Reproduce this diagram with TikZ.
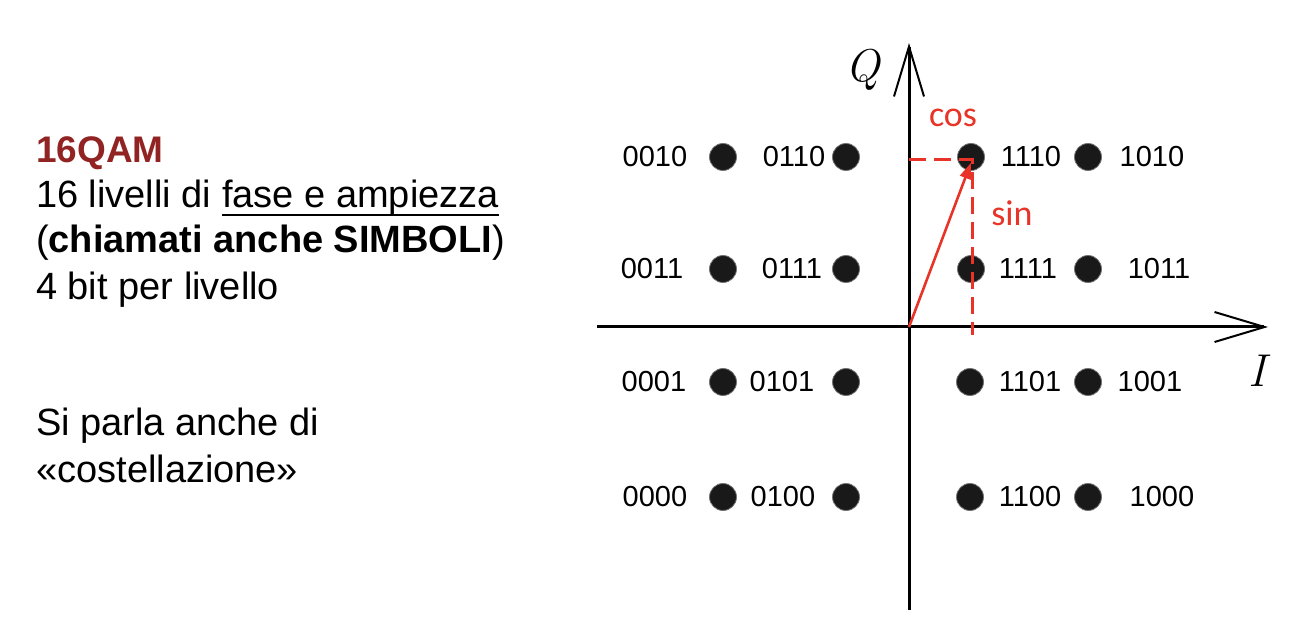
\documentclass[tikz,border=0pt]{standalone}
\usepackage{fontspec}
\setmainfont{Liberation Sans}
\newfontfamily\calibrifont{Carlito}
\newfontfamily\lmfont{Latin Modern Roman}
\usepackage{tikz}
\usetikzlibrary{arrows.meta,positioning}
\usepackage{xcolor}
\definecolor{qamred}{RGB}{145,35,35}
\definecolor{vecred}{RGB}{232,52,40}
\newcommand{\sottolinea}[1]{\setbox0\hbox{#1}\rlap{\rule[-8pt]{\wd0}{1.8pt}}\box0}

\begin{document}
\begin{tikzpicture}[x=1pt, y=1pt,
    txt/.style={anchor=base west, inner sep=0pt, font=\fontsize{38}{45}\selectfont},
    dot/.style={circle, fill=black!90, draw=black!55, line width=0.8pt,
                minimum size=27pt, inner sep=0pt},
    bits/.style={inner sep=0pt, font=\fontsize{29}{32}\selectfont},
    axis/.style={line width=3pt, -{Straight Barb[length=50pt,width=30pt,line width=2pt]}},
    asse/.style={inner sep=0pt, font=\lmfont\itshape\fontsize{46}{50}\selectfont},
    trig/.style={text=vecred, inner sep=0pt, font=\calibrifont\fontsize{36}{40}\selectfont}
]
    \useasboundingbox (-909,-315) rectangle (407,327);
    % left text
    \node[txt, text=qamred, font=\fontsize{37}{45}\selectfont\bfseries] (title) at (-873,164) {16QAM};
    \node[txt] (riga1) at (-873,119) {16 livelli di \sottolinea{fase e ampiezza}};
    \node[txt] (riga2) at (-873,74) {(\textbf{chiamati anche SIMBOLI})};
    \node[txt] (riga3) at (-873,27) {4 bit per livello};
    \node[txt] (riga4) at (-873,-108) {Si parla anche di};
    \node[txt] (riga5) at (-873,-155) {«costellazione»};

    % axes
    \coordinate (o) at (0,0);
    \coordinate (qbot) at (0,-283);
    \coordinate (qtop) at (0,284);
    \coordinate (ileft) at (-312,0);
    \coordinate (iright) at (359,0);
    \draw[axis] (qbot) -- (qtop);
    \draw[axis] (ileft) -- (iright);
    \node[asse] (qlbl) at (-46,257) {Q};
    \node[asse] (ilbl) at (348,-44) {I};

    % constellation
    \node[dot] (d0010) at (-186,170) {};
    \node[dot] (d0110) at (-63,170) {};
    \node[dot] (d1110) at (62,170) {};
    \node[dot] (d1010) at (179,170) {};
    \node[dot] (d0011) at (-186,58) {};
    \node[dot] (d0111) at (-63,58) {};
    \node[dot] (d1111) at (62,58) {};
    \node[dot] (d1011) at (179,58) {};
    \node[dot] (d0001) at (-186,-55) {};
    \node[dot] (d0101) at (-63,-55) {};
    \node[dot] (d1101) at (61,-55) {};
    \node[dot] (d1001) at (179,-55) {};
    \node[dot] (d0000) at (-186,-170) {};
    \node[dot] (d0100) at (-63,-170) {};
    \node[dot] (d1100) at (61,-170) {};
    \node[dot] (d1000) at (179,-170) {};

    \node[bits] (b0010) at (-254,170) {0010};
    \node[bits] (b0110) at (-115,170) {0110};
    \node[bits] (b1110) at (122,170) {1110};
    \node[bits] (b1010) at (243,170) {1010};
    \node[bits] (b0011) at (-257,58) {0011};
    \node[bits] (b0111) at (-117,58) {0111};
    \node[bits] (b1111) at (119,58) {1111};
    \node[bits] (b1011) at (250,58) {1011};
    \node[bits] (b0001) at (-255,-55) {0001};
    \node[bits] (b0101) at (-127,-55) {0101};
    \node[bits] (b1101) at (121,-55) {1101};
    \node[bits] (b1001) at (241,-55) {1001};
    \node[bits] (b0000) at (-254,-170) {0000};
    \node[bits] (b0100) at (-126,-170) {0100};
    \node[bits] (b1100) at (121,-170) {1100};
    \node[bits] (b1000) at (253,-170) {1000};

    % vector and projections
    \coordinate (p) at (63,167);
    \coordinate (pb) at (63,-8);
    \draw[vecred, line width=3pt, dash pattern=on 17pt off 8pt] (o |- p) -- (p) -- (pb);
    \draw[vecred, line width=2.6pt, -{Triangle[length=16pt,width=11pt]}, shorten >=3pt] (o) -- (p);
    \node[trig] (cos) at (44,209) {cos};
    \node[trig] (sin) at (103,114) {sin};
\end{tikzpicture}
\end{document}
